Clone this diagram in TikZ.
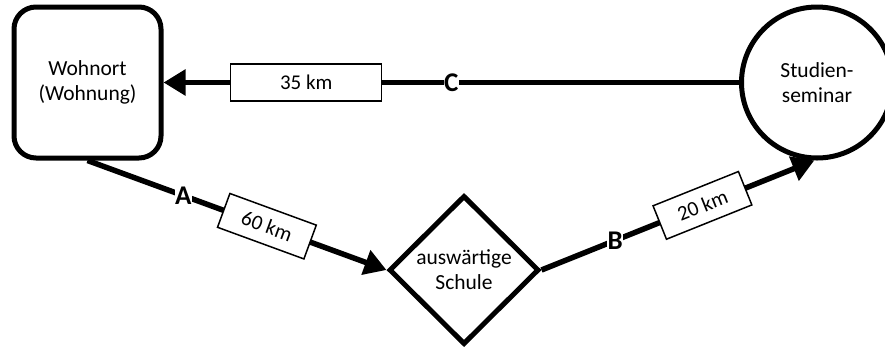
\documentclass[tikz,border=0pt]{standalone}
\usepackage{fontspec}
\setmainfont{Carlito}
\usetikzlibrary{shapes.geometric,arrows.meta}
\begin{document}
\begin{tikzpicture}[x=1pt,y=-1pt,
 every node/.style={font=\fontsize{21.5}{25}\selectfont, align=center},
 heavy/.style={line width=5pt},
 conn/.style={line width=5.5pt, -{Triangle[length=22pt,width=25pt]}},
 kmbox/.style={draw, line width=1.5pt, fill=white, minimum width=92pt, minimum height=36pt, inner sep=0pt, font=\fontsize{21}{25}\selectfont},
 letter/.style={font=\fontsize{27}{27}\selectfont\bfseries, fill=white, inner sep=0.5pt},
]
\useasboundingbox (0,0) rectangle (885,349);
\node[heavy, draw, rounded corners=22pt, minimum width=147pt, minimum height=151pt, inner sep=0pt] (wo) at (87.5,82.5) {Wohnort\\(Wohnung)};
\node[heavy, draw, circle, minimum size=151pt, inner sep=0pt] (ss) at (817,82.5) {Studien-\\seminar};
\node[heavy, draw, diamond, aspect=1, minimum width=150pt, minimum height=149pt, inner sep=0pt] (di) at (464,270) {auswärtige\\Schule};
\draw[conn] (ss.west) -- node[pos=0.5, letter] (lc) {C} node[pos=0.752, kmbox, minimum width=151pt, minimum height=37pt] (k35) {35 km} (wo.east);
\draw[conn] (wo.south) -- node[pos=0.32, letter] (la) {A} node[pos=0.6, kmbox, sloped] (k60) {60 km} (di.west);
\draw[conn] (di.east) -- node[pos=0.27, letter] (lb) {B} node[pos=0.59, kmbox, sloped] (k20) {20 km} (ss.268);
\end{tikzpicture}
\end{document}
